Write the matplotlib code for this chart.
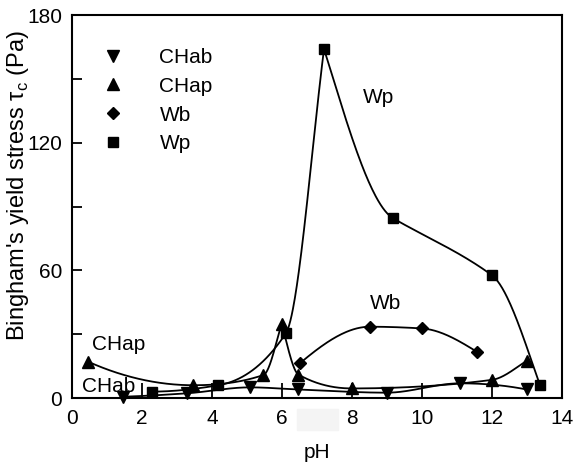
import numpy as np
import matplotlib
matplotlib.use("Agg")
import matplotlib.pyplot as plt
from matplotlib.patches import Rectangle

plt.rcParams['font.family'] = ['Liberation Sans', 'DejaVu Sans']
plt.rcParams['mathtext.fontset'] = 'custom'
plt.rcParams['mathtext.rm'] = 'Liberation Sans'

# data (pH, yield stress in Pa)
chab_ph = [1.47, 3.28, 5.09, 6.47, 8.99, 11.09, 12.99]
chab_tau = [0.6, 2.2, 5.0, 4.0, 2.5, 6.9, 4.0]

chap_ph = [0.47, 3.47, 5.47, 5.99, 6.47, 7.99, 11.99, 12.99]
chap_tau = [17.0, 6.0, 10.8, 35.0, 11.0, 4.5, 8.5, 17.5]

wb_ph = [6.51, 8.51, 9.99, 11.56]
wb_tau = [16.3, 33.5, 32.7, 21.8]

wp_ph = [2.28, 4.18, 6.11, 7.20, 9.18, 11.99, 13.37]
wp_tau = [3.0, 6.0, 30.4, 164.0, 84.4, 57.8, 6.1]

x_ticks = [0, 2, 4, 6, 8, 10, 12, 14]
y_ticks = [0, 60, 120, 180]


def pchip_slopes(x, y):
    h = np.diff(x)
    d = np.diff(y) / h
    n = len(x)
    m = np.zeros(n)
    for k in range(1, n - 1):
        if d[k - 1] * d[k] > 0:
            w1 = 2 * h[k] + h[k - 1]
            w2 = h[k] + 2 * h[k - 1]
            m[k] = (w1 + w2) / (w1 / d[k - 1] + w2 / d[k])

    def end(h0, h1, d0, d1):
        s = ((2 * h0 + h1) * d0 - h0 * d1) / (h0 + h1)
        if np.sign(s) != np.sign(d0):
            return 0.0
        if np.sign(d0) != np.sign(d1) and abs(s) > 3 * abs(d0):
            return 3 * d0
        return s

    if n > 2:
        m[0] = end(h[0], h[1], d[0], d[1])
        m[-1] = end(h[-1], h[-2], d[-1], d[-2])
    else:
        m[:] = d[0]
    return m


def smooth(x, y, split=(), caps=None, fix=None):
    # monotone cubic through the points, broken at cusp indices
    x = np.asarray(x, float)
    y = np.asarray(y, float)
    cuts = [0] + list(split) + [len(x) - 1]
    xs, ys = [], []
    for a, b in zip(cuts[:-1], cuts[1:]):
        px, py = x[a:b + 1], y[a:b + 1]
        m = pchip_slopes(px, py)
        if caps:
            m = np.clip(m, -caps, caps)
        if fix:
            for idx, val in fix.items():
                if a <= idx <= b:
                    m[idx - a] = val
        for i in range(len(px) - 1):
            hh = px[i + 1] - px[i]
            t = np.linspace(0, 1, 60)
            h00 = 2 * t**3 - 3 * t**2 + 1
            h10 = t**3 - 2 * t**2 + t
            h01 = -2 * t**3 + 3 * t**2
            h11 = t**3 - t**2
            xs.append(px[i] + t * hh)
            ys.append(h00 * py[i] + h10 * hh * m[i] + h01 * py[i + 1] + h11 * hh * m[i + 1])
    return np.concatenate(xs), np.concatenate(ys)


fig = plt.figure(figsize=(5.73, 4.65), dpi=100)
ax = fig.add_axes([72 / 573, 1 - 398 / 465, 490 / 573, 383 / 465])

lw = 1.3
curves = [(chab_ph, chab_tau, (), None),
          (chap_ph, chap_tau, (3,), None),
          (wb_ph, wb_tau, (), None),
          (wp_ph, wp_tau, (3,), {4: -9.5, 5: -12.0})]
for xx, yy, sp, fx in curves:
    sx, sy = smooth(xx, yy, sp, caps=130, fix=fx)
    ax.plot(sx, sy, color='black', lw=lw, clip_on=False)

ax.plot(chab_ph, chab_tau, 'v', color='black', ms=8, ls='none', label='CHab', clip_on=False)
ax.plot(chap_ph, chap_tau, '^', color='black', ms=8, ls='none', label='CHap', clip_on=False)
ax.plot(wb_ph, wb_tau, 'D', color='black', ms=6, ls='none', label='Wb', clip_on=False)
ax.plot(wp_ph, wp_tau, 's', color='black', ms=6.5, ls='none', label='Wp', clip_on=False)

ax.set_xlim(0, 14)
ax.set_ylim(0, 180)
ax.set_xticks(x_ticks)
ax.set_yticks(y_ticks)
ax.set_yticks([30, 90, 150], minor=True)
ax.tick_params(axis='x', direction='in', length=11, width=1.3, labelsize=15, pad=8)
ax.tick_params(axis='y', which='both', direction='in', length=7, width=1.3, labelsize=15, pad=7)
for s in ax.spines.values():
    s.set_linewidth(1.5)

ax.set_xlabel('pH', fontsize=15, labelpad=11)
ax.set_ylabel("Bingham's yield stress τ$_\\mathrm{c}$ (Pa)", fontsize=17)
ax.yaxis.set_label_coords(-0.084, 0.555)

ax.legend(loc='upper left', bbox_to_anchor=(25 / 490, 0.914), frameon=False,
          fontsize=15, handlelength=1.5, handletextpad=1.5, labelspacing=0.47,
          borderpad=0, borderaxespad=0, markerscale=1.0)

ax.text(8.77, 141.4, 'Wp', fontsize=15, ha='center', va='center')
ax.text(8.95, 44.6, 'Wb', fontsize=15, ha='center', va='center')
ax.text(0.57, 25.0, 'CHap', fontsize=15, ha='left', va='center')
ax.text(0.29, 5.6, 'CHab', fontsize=15, ha='left', va='center')

# faint grey patch under the axis between the 6 and 8 labels
fig.patches.append(Rectangle((297 / 573, 1 - 430 / 465), 41 / 573, 21 / 465,
                             transform=fig.transFigure, color='#f4f4f4', zorder=-1))

fig.savefig('out.png', dpi=100)
